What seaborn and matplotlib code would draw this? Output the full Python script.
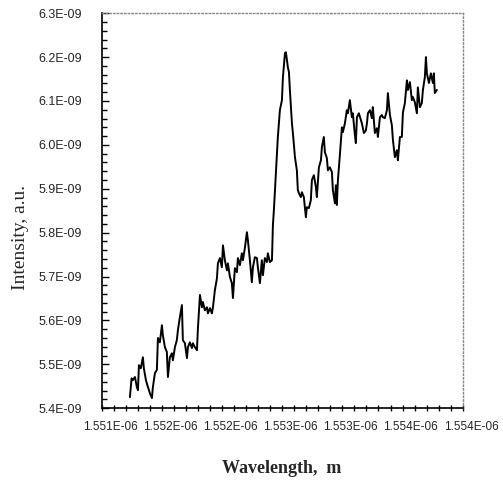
import matplotlib
matplotlib.use("Agg")
import matplotlib.pyplot as plt
from matplotlib.ticker import FixedLocator, FixedFormatter, MultipleLocator, FuncFormatter
from matplotlib.transforms import ScaledTranslation
import numpy as np
import pandas as pd
import seaborn as sns


# spectrum (wavelength in nm, intensity in 1e-9 a.u.)
wavelength_nm = [
    1551.235, 1551.249, 1551.260, 1551.277, 1551.293, 1551.302, 1551.310, 1551.326,
    1551.343, 1551.351, 1551.368, 1551.385, 1551.401, 1551.418, 1551.426, 1551.443,
    1551.459, 1551.468, 1551.484, 1551.501, 1551.509, 1551.526, 1551.542, 1551.551,
    1551.567, 1551.584, 1551.592, 1551.609, 1551.625, 1551.634, 1551.650, 1551.667,
    1551.675, 1551.692, 1551.709, 1551.717, 1551.733, 1551.750, 1551.758, 1551.775,
    1551.792, 1551.800, 1551.817, 1551.833, 1551.841, 1551.858, 1551.875, 1551.883,
    1551.900, 1551.916, 1551.925, 1551.941, 1551.958, 1551.966, 1551.983, 1551.999,
    1552.008, 1552.024, 1552.041, 1552.049, 1552.066, 1552.082, 1552.091, 1552.107,
    1552.124, 1552.132, 1552.149, 1552.165, 1552.174, 1552.190, 1552.207, 1552.215,
    1552.232, 1552.248, 1552.257, 1552.273, 1552.290, 1552.298, 1552.315, 1552.331,
    1552.340, 1552.356, 1552.373, 1552.381, 1552.398, 1552.415, 1552.423, 1552.431,
    1552.439, 1552.456, 1552.464, 1552.481, 1552.498, 1552.506, 1552.523, 1552.531,
    1552.547, 1552.556, 1552.564, 1552.581, 1552.589, 1552.606, 1552.622, 1552.630,
    1552.639, 1552.655, 1552.664, 1552.680, 1552.697, 1552.705, 1552.722, 1552.738,
    1552.747, 1552.763, 1552.780, 1552.788, 1552.805, 1552.822, 1552.830, 1552.846,
    1552.855, 1552.871, 1552.880, 1552.896, 1552.913, 1552.921, 1552.938, 1552.946,
    1552.954, 1552.963, 1552.979, 1552.996, 1553.004, 1553.021, 1553.037, 1553.046,
    1553.062, 1553.079, 1553.087, 1553.104, 1553.112, 1553.121, 1553.137, 1553.154,
    1553.162, 1553.179, 1553.195, 1553.204, 1553.212, 1553.229, 1553.245, 1553.253,
    1553.270, 1553.287, 1553.295, 1553.312, 1553.328, 1553.336, 1553.353, 1553.370,
    1553.378, 1553.395, 1553.411, 1553.420, 1553.436, 1553.453, 1553.461, 1553.478,
    1553.494, 1553.503, 1553.519, 1553.536, 1553.544, 1553.561, 1553.577, 1553.586,
    1553.602, 1553.619, 1553.627, 1553.644, 1553.660, 1553.669, 1553.685, 1553.694,
    1553.702, 1553.719, 1553.735, 1553.752, 1553.760, 1553.768, 1553.785,
]
intensity_e9 = [
    5.425, 5.468, 5.464, 5.471, 5.448, 5.441, 5.498, 5.491,
    5.516, 5.491, 5.464, 5.448, 5.434, 5.423, 5.448, 5.480,
    5.487, 5.560, 5.550, 5.589, 5.566, 5.539, 5.528, 5.471,
    5.516, 5.525, 5.509, 5.539, 5.555, 5.578, 5.607, 5.635,
    5.555, 5.548, 5.514, 5.539, 5.550, 5.537, 5.548, 5.539,
    5.532, 5.582, 5.658, 5.630, 5.642, 5.623, 5.630, 5.616,
    5.628, 5.616, 5.630, 5.669, 5.696, 5.730, 5.742, 5.721,
    5.771, 5.737, 5.714, 5.730, 5.699, 5.685, 5.651, 5.719,
    5.710, 5.742, 5.726, 5.753, 5.737, 5.765, 5.801, 5.783,
    5.737, 5.687, 5.721, 5.744, 5.742, 5.721, 5.685, 5.737,
    5.703, 5.742, 5.733, 5.753, 5.733, 5.737, 5.817, 5.851,
    5.892, 5.981, 6.018, 6.079, 6.102, 6.154, 6.209, 6.211,
    6.177, 6.166, 6.125, 6.049, 6.027, 5.972, 5.942, 5.897,
    5.890, 5.881, 5.892, 5.881, 5.835, 5.858, 5.856, 5.874,
    5.920, 5.931, 5.904, 5.881, 5.949, 5.965, 5.995, 6.018,
    5.983, 5.970, 5.942, 5.949, 5.938, 5.897, 5.867, 5.908,
    5.863, 5.920, 5.976, 6.040, 6.029, 6.049, 6.079, 6.072,
    6.102, 6.063, 6.072, 6.022, 6.004, 6.063, 6.072, 6.056,
    6.049, 6.027, 6.033, 6.049, 6.072, 6.079, 6.061, 6.086,
    6.027, 6.038, 6.018, 6.063, 6.068, 6.063, 6.061, 6.079,
    6.118, 6.068, 6.045, 6.011, 5.972, 5.988, 5.965, 6.018,
    6.018, 6.074, 6.095, 6.147, 6.125, 6.143, 6.102, 6.109,
    6.097, 6.072, 6.131, 6.086, 6.095, 6.125, 6.154, 6.200,
    6.163, 6.141, 6.163, 6.141, 6.163, 6.118, 6.125,
]

x_tick_values_nm = [1551.0, 1551.5, 1552.0, 1552.5, 1553.0, 1553.5, 1554.0]
x_tick_labels = ["1.551E-06", "1.552E-06", "1.552E-06", "1.553E-06",
                 "1.553E-06", "1.554E-06", "1.554E-06"]
y_tick_values_e9 = [5.4, 5.5, 5.6, 5.7, 5.8, 5.9, 6.0, 6.1, 6.2, 6.3]

df = pd.DataFrame({
    "wavelength": np.array(wavelength_nm) * 1e-9,
    "intensity": np.array(intensity_e9) * 1e-9,
})

sns.set_style("ticks")
plt.rcParams["font.family"] = ["Liberation Sans", "DejaVu Sans"]

fig = plt.figure(figsize=(5.03, 4.90), dpi=100)
ax = fig.add_axes([0.202, 0.167, 0.718, 0.806])

sns.lineplot(data=df, x="wavelength", y="intensity", ax=ax, color="black",
             linewidth=1.4, sort=False)

ax.set_xlim(1551.0e-9, 1554.0e-9)
ax.set_ylim(5.4e-9, 6.3e-9)

ax.xaxis.set_major_locator(FixedLocator([v * 1e-9 for v in x_tick_values_nm]))
ax.xaxis.set_major_formatter(FixedFormatter(x_tick_labels))
ax.xaxis.set_minor_locator(MultipleLocator(0.1e-9))
ax.yaxis.set_major_locator(FixedLocator([v * 1e-9 for v in y_tick_values_e9]))
ax.yaxis.set_major_formatter(FuncFormatter(lambda v, _: f"{v:.1E}"))
ax.yaxis.set_minor_locator(MultipleLocator(0.02e-9))

ax.tick_params(axis="x", which="both", direction="inout", length=5, width=1,
               color="black", labelsize=8.5, pad=7)
ax.tick_params(axis="y", which="major", direction="in", length=5, width=1,
               color="black", labelsize=9, pad=14)
ax.tick_params(axis="y", which="minor", direction="in", length=3.5, width=1,
               color="black")

for lab in ax.get_xticklabels():
    lab.set_transform(lab.get_transform() + ScaledTranslation(6 / 72, 0, fig.dpi_scale_trans))

for side in ["left", "bottom"]:
    ax.spines[side].set_color("black")
    ax.spines[side].set_linewidth(1.2)
for side in ["top", "right"]:
    ax.spines[side].set_visible(True)
    ax.spines[side].set_color("#888888")
    ax.spines[side].set_linestyle(":")
    ax.spines[side].set_linewidth(1.0)

ax.set_xlabel("Wavelength,  m", fontfamily="Liberation Serif", fontweight="bold",
              fontsize=13)
ax.set_ylabel("Intensity, a.u.", fontfamily="Liberation Serif", fontsize=14)
ax.xaxis.set_label_coords(0.5, -0.13)
ax.yaxis.set_label_coords(-0.20, 0.433)

fig.savefig("out.png", dpi=100)
